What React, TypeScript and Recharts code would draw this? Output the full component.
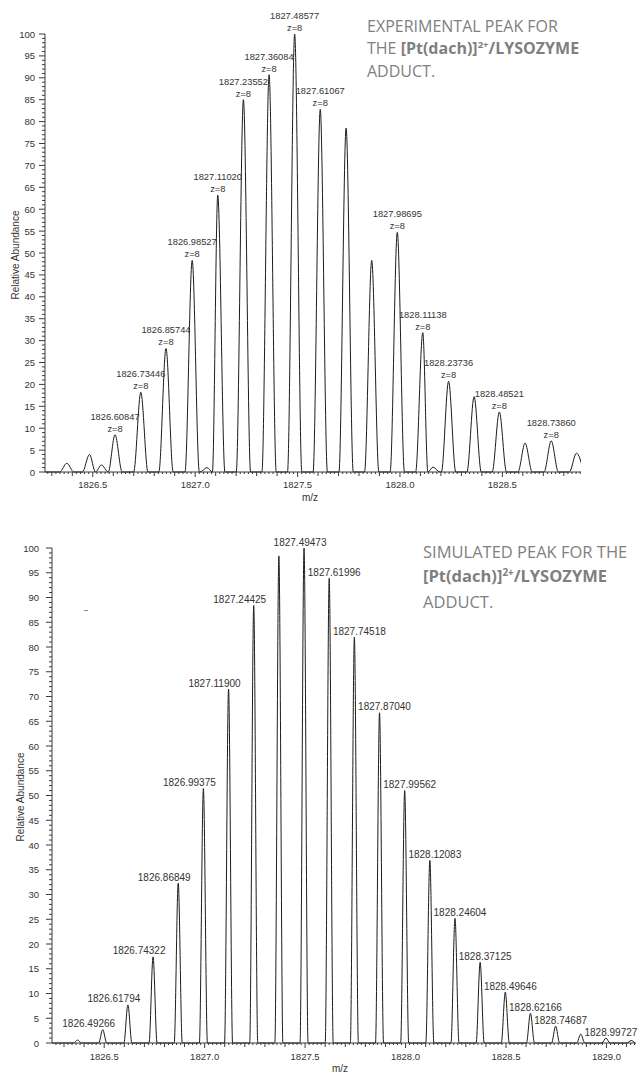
import React from 'react';
import { LineChart, Line, XAxis, YAxis } from 'recharts';

// ---------- Experimental spectrum (top) ----------
const expMz = [
  1826.373, 1826.484, 1826.542, 1826.60847, 1826.73446, 1826.85744, 1826.98527, 1827.058,
  1827.1102, 1827.23552, 1827.36084, 1827.48577, 1827.61067, 1827.737, 1827.862, 1827.98695,
  1828.11138, 1828.161, 1828.23736, 1828.362, 1828.48521, 1828.611, 1828.7386, 1828.862,
];
const expAbundance = [
  2.0, 4.0, 1.6, 8.5, 18.2, 28.2, 48.3, 1.0,
  63.2, 85.0, 90.7, 100, 82.8, 78.5, 48.3, 54.7,
  31.8, 1.1, 20.7, 17.2, 13.7, 6.6, 7.1, 4.3,
];
const expLabels = [
  '', '', '', '1826.60847', '1826.73446', '1826.85744', '1826.98527', '',
  '1827.11020', '1827.23552', '1827.36084', '1827.48577', '1827.61067', '', '', '1827.98695',
  '1828.11138', '', '1828.23736', '', '1828.48521', '', '1828.73860', '',
];
const expChargeLabel = 'z=8';

// ---------- Simulated spectrum (bottom) ----------
const simMz = [
  1826.36739, 1826.49266, 1826.61794, 1826.74322, 1826.86849, 1826.99375, 1827.119, 1827.24425,
  1827.3695, 1827.49473, 1827.61996, 1827.74518, 1827.8704, 1827.99562, 1828.12083, 1828.24604,
  1828.37125, 1828.49646, 1828.62166, 1828.74687, 1828.87207, 1828.99727, 1829.12247,
];
const simAbundance = [
  0.6, 2.7, 7.7, 17.4, 32.3, 51.4, 71.5, 88.4,
  98.4, 100, 93.9, 82.0, 66.7, 51.0, 36.9, 25.2,
  16.3, 10.3, 6.0, 3.4, 1.8, 1.0, 0.5,
];
const simLabels = [
  '', '1826.49266', '1826.61794', '1826.74322', '1826.86849', '1826.99375', '1827.11900', '1827.24425',
  '', '1827.49473', '1827.61996', '1827.74518', '1827.87040', '1827.99562', '1828.12083', '1828.24604',
  '1828.37125', '1828.49646', '1828.62166', '1828.74687', '', '1828.99727', '',
];

// ---------- Axes ----------
const expXDomain: [number, number] = [1826.2666, 1828.884];
const simXDomain: [number, number] = [1826.2402, 1829.147];
const yTicks = Array.from({ length: 101 }, (_, i) => i);

const FONT = "'Liberation Sans', Arial, sans-serif";
const AXIS = '#3a3a3a';
const TEXT = '#333';

type Pt = { mz: number; ab: number; label?: string };

function buildProfile(mz: number[], ab: number[], halfWidth: number, start: number): Pt[] {
  const pts: Pt[] = [{ mz: start, ab: 0 }];
  for (let i = 0; i < mz.length; i++) {
    const left = mz[i] - halfWidth;
    const last = pts[pts.length - 1];
    if (pts.length > 1 && last.mz >= left) {
      last.mz = (last.mz + left) / 2;
    } else {
      pts.push({ mz: left, ab: 0 });
    }
    pts.push({ mz: mz[i], ab: ab[i] });
    pts.push({ mz: mz[i] + halfWidth, ab: 0 });
  }
  return pts;
}

function buildLabels(mz: number[], ab: number[], labels: string[]): Pt[] {
  const out: Pt[] = [];
  for (let i = 0; i < mz.length; i++) if (labels[i]) out.push({ mz: mz[i], ab: ab[i], label: labels[i] });
  return out;
}

function xTicksFor(domain: [number, number]) {
  const t: number[] = [];
  for (let k = Math.ceil(domain[0] * 50); k <= Math.floor(domain[1] * 50); k++) t.push(k / 50);
  return t;
}

const makeXTick = (axisY: number, labelDy: number) => (props: any) => {
  const { x, payload } = props;
  const y = axisY;
  const v = payload.value as number;
  const k = Math.round(v * 50);
  const major = k % 25 === 0;
  const mid = k % 5 === 0;
  const len = major ? 5 : mid ? 4 : 2;
  return (
    <g>
      <line x1={x} x2={x} y1={y} y2={y + len} stroke={AXIS} strokeWidth={1} />
      {major && (
        <text x={x} y={y + labelDy} textAnchor="middle" dominantBaseline="central" fontSize={9.5} fill={TEXT} fontFamily={FONT}>
          {v.toFixed(1)}
        </text>
      )}
    </g>
  );
};

const makeYTick = (axisX: number, gap: number) => (props: any) => {
  const { y, payload } = props;
  const x = axisX;
  const v = payload.value as number;
  const major = v % 5 === 0;
  const len = major ? 6 : 3;
  return (
    <g>
      <line x1={x} x2={x - len} y1={y} y2={y} stroke={AXIS} strokeWidth={1} />
      {major && (
        <text x={x - 6 - gap} y={y} textAnchor="end" dominantBaseline="central" fontSize={9.5} fill={TEXT} fontFamily={FONT}>
          {v}
        </text>
      )}
    </g>
  );
};

const expLabelDot = (props: any) => {
  const { cx, cy, payload, index } = props;
  return (
    <g key={`el-${index}`}>
      <text x={cx} y={cy - 18} textAnchor="middle" dominantBaseline="central" fontSize={9.3} fill={TEXT} fontFamily={FONT}>
        {payload.label}
      </text>
      <text x={cx} y={cy - 6} textAnchor="middle" dominantBaseline="central" fontSize={9.3} fill={TEXT} fontFamily={FONT}>
        {expChargeLabel}
      </text>
    </g>
  );
};

const simMaxMz = simMz[simAbundance.indexOf(Math.max(...simAbundance))];
const simLabelDot = (props: any) => {
  const { cx, cy, payload, index } = props;
  const dx = payload.mz < simMaxMz ? -14 : payload.mz > simMaxMz ? 5 : -4;
  return (
    <g key={`sl-${index}`}>
      <text x={cx + dx} y={cy - 6} textAnchor="middle" dominantBaseline="central" fontSize={10} fill={TEXT} fontFamily={FONT}>
        {payload.label}
      </text>
    </g>
  );
};

const expProfile = buildProfile(expMz, expAbundance, 0.035, expXDomain[0]);
const expLabelPts = buildLabels(expMz, expAbundance, expLabels);
const simProfile = buildProfile(simMz, simAbundance, 0.02, simXDomain[0]);
const simLabelPts = buildLabels(simMz, simAbundance, simLabels);

const titleStyle: React.CSSProperties = {
  position: 'absolute',
  fontFamily: "'Open Sans', sans-serif",
  color: '#7f7f7f',
  whiteSpace: 'nowrap',
};
const sup: React.CSSProperties = { fontSize: '0.6em', position: 'relative', top: '-0.6em' };

function Spectrum(props: {
  width: number; height: number; margin: any; yWidth: number; xHeight: number;
  domain: [number, number]; profile: Pt[]; labels: Pt[]; labelDot: any; xLabelDy: number; yGap: number;
}) {
  const { width, height, margin, yWidth, xHeight, domain, profile, labels, labelDot, xLabelDy, yGap } = props;
  const axisY = height - margin.bottom - xHeight;
  const axisX = margin.left + yWidth;
  return (
    <LineChart width={width} height={height} data={profile} margin={margin}>
      <XAxis
        xAxisId="a" dataKey="mz" type="number" domain={domain} allowDataOverflow
        ticks={xTicksFor(domain)} interval={0} tickSize={0} tickMargin={0}
        tick={makeXTick(axisY, xLabelDy)} tickLine={false} height={xHeight}
        axisLine={{ stroke: AXIS, strokeWidth: 1 }}
      />
      <XAxis xAxisId="b" dataKey="mz" type="number" domain={domain} hide height={0} />
      <YAxis
        type="number" domain={[0, 100]} ticks={yTicks} interval={0} tickSize={0} tickMargin={0}
        tick={makeYTick(axisX, yGap)} tickLine={false} width={yWidth}
        axisLine={{ stroke: AXIS, strokeWidth: 1 }}
      />
      <Line xAxisId="a" dataKey="ab" type="monotone" stroke="#1c1c1c" strokeWidth={1} dot={false} activeDot={false} isAnimationActive={false} />
      <Line xAxisId="b" data={labels} dataKey="ab" stroke="none" dot={labelDot} activeDot={false} isAnimationActive={false} />
    </LineChart>
  );
}

export default function App() {
  return (
    <div style={{ position: 'absolute', left: 0, top: 0, width: 639, height: 1075, background: '#fff', overflow: 'hidden' }}>
      <div style={{ position: 'absolute', left: 0, top: 0 }}>
        <Spectrum
          width={639} height={505} margin={{ top: 34, right: 58, bottom: 0, left: 0 }}
          yWidth={45} xHeight={33} domain={expXDomain} profile={expProfile} labels={expLabelPts}
          labelDot={expLabelDot} xLabelDy={12.5} yGap={4}
        />
      </div>
      <div style={{ position: 'absolute', left: 0, top: 505 }}>
        <Spectrum
          width={639} height={570} margin={{ top: 43, right: 3, bottom: 0, left: 0 }}
          yWidth={52} xHeight={32} domain={simXDomain} profile={simProfile} labels={simLabelPts}
          labelDot={simLabelDot} xLabelDy={13.4} yGap={7}
        />
      </div>

      {/* axis titles */}
      <div style={{ position: 'absolute', left: 15, top: 255, transform: 'translate(-50%, -50%) rotate(-90deg)', fontFamily: FONT, fontSize: 10, color: TEXT, whiteSpace: 'nowrap' }}>
        Relative Abundance
      </div>
      <div style={{ position: 'absolute', left: 310, top: 497, transform: 'translate(-50%, -50%)', fontFamily: FONT, fontSize: 10, color: TEXT }}>m/z</div>
      <div style={{ position: 'absolute', left: 20, top: 797, transform: 'translate(-50%, -50%) rotate(-90deg)', fontFamily: FONT, fontSize: 10, color: TEXT, whiteSpace: 'nowrap' }}>
        Relative Abundance
      </div>
      <div style={{ position: 'absolute', left: 340, top: 1068, transform: 'translate(-50%, -50%)', fontFamily: FONT, fontSize: 10, color: TEXT }}>m/z</div>

      {/* stray mark */}
      <div style={{ position: 'absolute', left: 84, top: 610, width: 4, height: 1, background: '#888' }} />

      {/* titles */}
      <div style={{ ...titleStyle, left: 367, top: 16, fontSize: 16, lineHeight: '21.5px' }}>
        <div>EXPERIMENTAL PEAK FOR</div>
        <div>THE <b>[Pt(dach)]<span style={sup}>2+</span>/LYSOZYME</b></div>
        <div>ADDUCT.</div>
      </div>
      <div style={{ ...titleStyle, left: 423, top: 540, fontSize: 16.5, lineHeight: '23.5px' }}>
        <div>SIMULATED PEAK FOR THE</div>
        <div><b>[Pt(dach)]<span style={sup}>2+</span>/LYSOZYME</b></div>
        <div>ADDUCT.</div>
      </div>
    </div>
  );
}
